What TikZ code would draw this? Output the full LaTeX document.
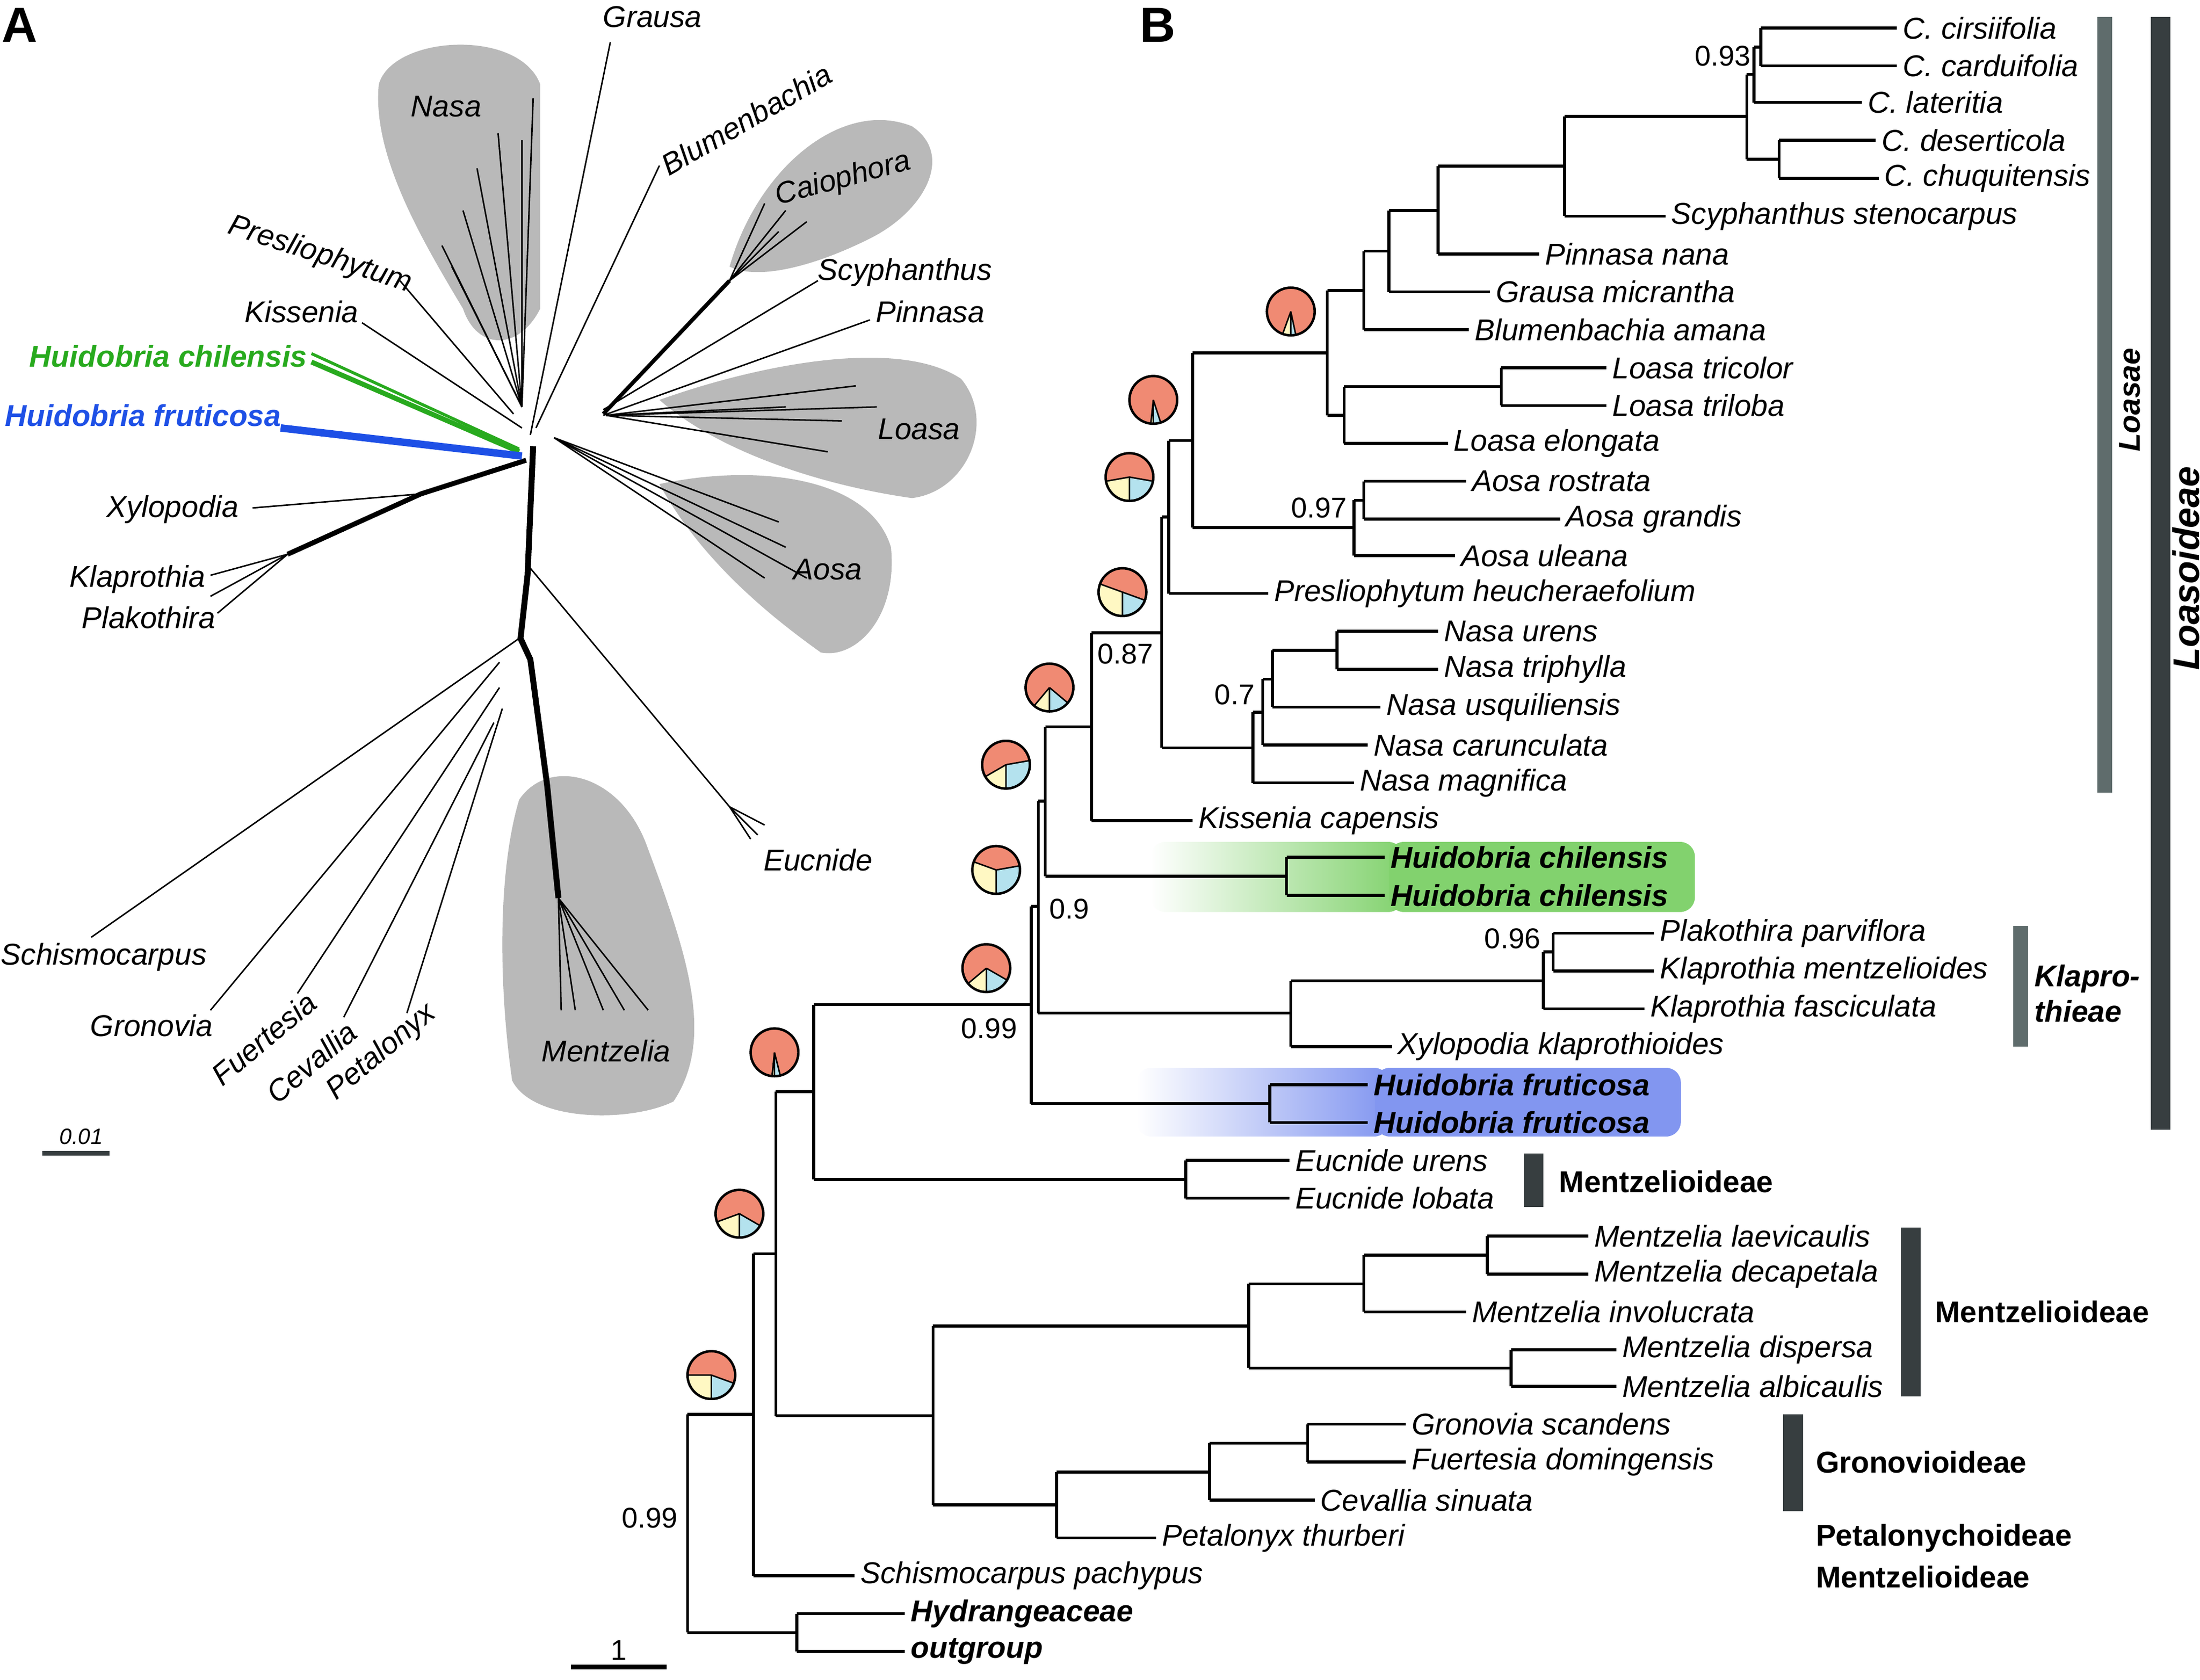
\documentclass[tikz,border=0pt]{standalone}
\usepackage{fontspec}
\setmainfont{Liberation Sans}
\usetikzlibrary{positioning}
\definecolor{pieR}{RGB}{240,138,115}
\definecolor{pieY}{RGB}{255,248,195}
\definecolor{pieB}{RGB}{180,226,238}
\definecolor{hgreen}{RGB}{130,210,110}
\definecolor{hblue}{RGB}{130,150,240}
\definecolor{barlight}{RGB}{95,108,108}
\definecolor{bardark}{RGB}{55,62,64}
\definecolor{nblue}{RGB}{30,80,230}
\definecolor{ngreen}{RGB}{40,170,30}
\newcommand\pieCh[4]{%
  \begin{scope}[shift={(#1,#2)}, x=1cm, y=1cm]
    \fill[pieR] (0,0) -- (-90+#4:0.17) arc[start angle=-90+#4, end angle=270-#3, radius=0.17] -- cycle;
    \fill[pieY] (0,0) -- (270-#3:0.17) arc[start angle=270-#3, end angle=270, radius=0.17] -- cycle;
    \fill[pieB] (0,0) -- (-90:0.17) arc[start angle=-90, end angle=-90+#4, radius=0.17] -- cycle;
    \draw[line width=0.5pt] (0,0) circle[radius=0.17];
    \draw[line width=0.3pt] (0,0) -- (-90:0.17) (0,0) -- (270-#3:0.17) (0,0) -- (-90+#4:0.17);
  \end{scope}}
\begin{document}
\begin{tikzpicture}[x=0.01cm, y=-0.01cm,
    tip/.style={font=\fontsize{6.1}{7.3}\selectfont\itshape, inner sep=1pt, anchor=west},
    btip/.style={tip, font=\fontsize{6.1}{7.3}\selectfont\bfseries\itshape},
    grp/.style={font=\fontsize{6.1}{7.3}\selectfont\bfseries, inner sep=1pt, anchor=west},
    supp/.style={font=\fontsize{5.8}{7}\selectfont, inner sep=1pt},
    br/.style={line width=0.6pt},
    net/.style={line width=0.3pt},
    blob/.style={fill=gray!55, draw=none},
    alab/.style={font=\fontsize{6.1}{7.3}\selectfont\itshape, inner sep=0.5pt},
    plab/.style={font=\fontsize{10}{12}\selectfont\bfseries, inner sep=0pt},
  ]
  \useasboundingbox (0,0) rectangle (1568,1197);

  % ---------- panel A
  \node[plab] (pA) at (14,18) {A};
  \fill[blob] (270,60) .. controls (280,25) and (370,20) .. (385,60) -- (385,220) .. controls (370,250) and (340,250) .. (330,220) .. controls (300,170) and (265,110) .. (270,60);
  \fill[blob] (520,190) .. controls (540,120) and (600,70) .. (650,90) .. controls (680,110) and (660,150) .. (620,170) .. controls (580,190) and (540,200) .. (520,190);
  \fill[blob] (470,285) .. controls (540,260) and (640,240) .. (685,270) .. controls (710,300) and (690,350) .. (650,355) .. controls (580,345) and (510,320) .. (470,285);
  \fill[blob] (470,345) .. controls (540,330) and (620,340) .. (635,390) .. controls (640,440) and (610,470) .. (585,465) .. controls (550,440) and (500,400) .. (470,345);
  \fill[blob] (370,570) .. controls (390,540) and (440,550) .. (460,600) .. controls (490,680) and (510,740) .. (480,785) .. controls (450,800) and (380,800) .. (365,770) .. controls (355,700) and (355,620) .. (370,570);
  % trunk
  \draw[line width=1.2pt] (380,318) -- (376,410) -- (371,455) -- (378,470) -- (390,560) -- (398,640);
  \draw[line width=1pt] (375,328) -- (300,352) -- (205,395);
  \draw[line width=0.8pt] (430,295) -- (520,200);
  \foreach \a/\b in {380/70,355/95,340/120,330/150,315/175,322/190,372/100}
    \draw[net] (372,290) -- (\a,\b);
  \draw[net] (378,310) -- (435,30);
  \draw[net] (382,305) -- (470,118);
  \draw[net] (285,200) -- (366,295);
  \draw[net] (258,230) -- (372,305);
  \draw[line width=1pt, ngreen] (222,258) -- (370,322);
  \draw[line width=0.6pt, ngreen] (222,252) -- (370,320);
  \draw[line width=1.5pt, nblue] (200,305) -- (372,325);
  \draw[net] (180,362) -- (300,352);
  \draw[net] (205,395) -- (150,410);
  \draw[net] (205,395) -- (150,425);
  \draw[net] (205,395) -- (155,437);
  \foreach \a/\b in {560/150,575/158,545/145,555/165}
    \draw[net] (520,200) -- (\a,\b);
  \draw[net] (430,292) -- (583,200);
  \draw[net] (430,296) -- (620,228);
  \foreach \a/\b in {610/275,625/290,600/300,590/322,560/290}
    \draw[net] (432,296) -- (\a,\b);
  \foreach \a/\b in {560/390,555/372,545/412,575/412}
    \draw[net] (395,312) -- (\a,\b);
  \draw[net] (378,405) -- (520,575);
  \foreach \a/\b in {540/595,535/598,545/588}
    \draw[net] (520,575) -- (\a,\b);
  \draw[net] (65,668) -- (370,455);
  \draw[net] (150,720) -- (356,472);
  \draw[net] (212,708) -- (356,490);
  \draw[net] (245,725) -- (352,515);
  \draw[net] (290,722) -- (358,505);
  \foreach \a in {400,410,430,445,462}
    \draw[net] (398,640) -- (\a,720);
  \node[alab] (aGr) at (465,12) {Grausa};
  \node[alab, rotate=30] (aBl) at (532,85) {Blumenbachia};
  \node[alab] (aNa) at (318,76) {Nasa};
  \node[alab, rotate=15] (aCa) at (601,128) {Caiophora};
  \node[alab, rotate=-18] (aPr) at (228,182) {Presliophytum};
  \node[alab] (aSc) at (645,194) {Scyphanthus};
  \node[alab] (aKi) at (215,222) {Kissenia};
  \node[alab] (aPi) at (663,222) {Pinnasa};
  \node[alab, text=ngreen, font=\fontsize{6.1}{7.3}\selectfont\bfseries\itshape] (aHc) at (120,254) {Huidobria chilensis};
  \node[alab, text=nblue, font=\fontsize{6.1}{7.3}\selectfont\bfseries\itshape] (aHf) at (102,296) {Huidobria fruticosa};
  \node[alab] (aLo) at (655,306) {Loasa};
  \node[alab] (aXy) at (123,363) {Xylopodia};
  \node[alab] (aAo) at (590,406) {Aosa};
  \node[alab] (aKl) at (98,413) {Klaprothia};
  \node[alab] (aPl) at (106,440) {Plakothira};
  \node[alab] (aEu) at (583,613) {Eucnide};
  \node[alab] (aSm) at (74,682) {Schismocarpus};
  \node[alab] (aGo) at (108,731) {Gronovia};
  \node[alab, rotate=40] (aFu) at (188,740) {Fuertesia};
  \node[alab, rotate=40] (aCe) at (222,757) {Cevallia};
  \node[alab, rotate=40] (aPe) at (272,750) {Petalonyx};
  \node[alab] (aMe) at (432,749) {Mentzelia};
  \node[alab, font=\fontsize{4.5}{5}\selectfont\itshape] (aSb) at (58,810) {0.01};
  \draw[line width=1pt, bardark] (30,822) -- (78,822);

  % ---------- panel B
  \node[plab] (pB) at (825,18) {B};
  \shade[left color=white, right color=hgreen, rounded corners=3pt] (820,600) rectangle (1000,650);
  \fill[hgreen, rounded corners=3pt] (990,600) rectangle (1208,650);
  \shade[left color=white, right color=hblue, rounded corners=3pt] (810,761) rectangle (990,810);
  \fill[hblue, rounded corners=3pt] (980,761) rectangle (1198,810);

  % internal nodes: x / ytop / ybot / y / parent x
  \foreach \x/\ya/\yb/\y/\p in {
      1255/20/47/33.5/1250, 1250/33.5/73/53/1245, 1268/100/127/113.5/1245,
      1245/53/113.5/83/1115, 1115/83/154/118.5/1025, 1025/118.5/181/150/990,
      990/150/208/179/972, 972/179/235/207/946, 1070/262/289/275.5/958,
      958/275.5/316/296/946, 946/207/296/251.5/850, 972/343/370/356.5/965,
      965/356.5/396/376/850, 850/251.5/376/314/833, 833/314/423/368.5/828,
      953/450/477/463.5/907, 907/463.5/504/484/900, 900/484/531/507.5/893,
      893/507.5/558/533/828, 828/368.5/533/451/778, 778/451/585/518/745,
      917/611/638/624.5/745, 745/518/624.5/571/740, 1107/665/692/678.5/1100,
      1100/678.5/719/699/920, 920/699/746/722/740, 740/571/722/646/735,
      905/773/800/786.5/735, 735/646/786.5/716/580, 845/827/854/840.5/580,
      580/716/840.5/778/553, 1060/881/908/894.5/972, 972/894.5/935/915/890,
      1077/962/988/975/890, 890/915/975/945/665, 932/1015/1042/1028.5/862,
      862/1028.5/1069/1049/753, 753/1049/1096/1072.5/665, 665/945/1072.5/1009/553,
      553/778/1009/893.5/537, 537/893.5/1123/1008/490, 568/1150/1177/1163.5/490}
    \draw[br] (\p,\y) -- (\x,\y) (\x,\ya) -- (\x,\yb);
  \draw[br] (490,1008) -- (490,1163.5);

  % tips: parent x / y / label x / name
  \foreach \p/\y/\lx/\t [count=\i] in {
      1255/20/1355/C. cirsiifolia, 1255/47/1355/C. carduifolia, 1250/73/1330/C. lateritia,
      1268/100/1340/C. deserticola, 1268/127/1342/C. chuquitensis,
      1115/154/1190/Scyphanthus stenocarpus, 1025/181/1100/Pinnasa nana,
      990/208/1065/Grausa micrantha, 972/235/1050/Blumenbachia amana,
      1070/262/1148/Loasa tricolor, 1070/289/1148/Loasa triloba,
      958/316/1035/Loasa elongata, 972/343/1048/Aosa rostrata, 972/370/1115/Aosa grandis,
      965/396/1040/Aosa uleana, 833/423/907/Presliophytum heucheraefolium,
      953/450/1028/Nasa urens, 953/477/1028/Nasa triphylla, 907/504/987/Nasa usquiliensis,
      900/531/978/Nasa carunculata, 893/558/968/Nasa magnifica, 778/585/853/Kissenia capensis,
      1107/665/1182/Plakothira parviflora, 1107/692/1182/Klaprothia mentzelioides,
      1100/719/1175/Klaprothia fasciculata, 920/746/995/Xylopodia klaprothioides,
      845/827/922/Eucnide urens, 845/854/922/Eucnide lobata,
      1060/881/1135/Mentzelia laevicaulis, 1060/908/1135/Mentzelia decapetala,
      972/935/1048/Mentzelia involucrata, 1077/962/1155/Mentzelia dispersa,
      1077/988/1155/Mentzelia albicaulis, 932/1015/1005/Gronovia scandens,
      932/1042/1005/Fuertesia domingensis, 862/1069/940/Cevallia sinuata,
      753/1096/827/Petalonyx thurberi, 537/1123/612/Schismocarpus pachypus}
    {\node[tip] (t\i) at (\lx-3,\y) {\t};
     \draw[br] (\p,\y) -- (t\i.west);}
  \foreach \p/\y/\lx/\t [count=\i] in {
      917/611/990/Huidobria chilensis, 917/638/990/Huidobria chilensis,
      905/773/978/Huidobria fruticosa, 905/800/978/Huidobria fruticosa,
      568/1150/648/Hydrangeaceae, 568/1177/648/outgroup}
    {\node[btip] (b\i) at (\lx-3,\y) {\t};
     \draw[br] (\p,\y) -- (b\i.west);}

  % support values
  \node[supp] (s1) at (1228,40) {0.93};
  \node[supp] (s2) at (940,362) {0.97};
  \node[supp] (s3) at (802,466) {0.87};
  \node[supp] (s4) at (880,495) {0.7};
  \node[supp] (s5) at (762,648) {0.9};
  \node[supp] (s6) at (1078,669) {0.96};
  \node[supp] (s7) at (705,733) {0.99};
  \node[supp] (s8) at (463,1082) {0.99};

  % pies
  \pieCh{920}{222}{20}{12}
  \pieCh{822}{285}{6}{18}
  \pieCh{805}{340}{80}{80}
  \pieCh{800}{422}{110}{70}
  \pieCh{748}{490}{40}{50}
  \pieCh{717}{545}{60}{100}
  \pieCh{710}{620}{110}{100}
  \pieCh{703}{690}{50}{60}
  \pieCh{552}{750}{6}{14}
  \pieCh{527}{865}{70}{60}
  \pieCh{507}{980}{90}{70}

  % clade bars
  \draw[line width=3pt, barlight] (1500,12) -- (1500,565);
  \node[grp, rotate=90, font=\fontsize{6.1}{7.3}\selectfont\bfseries\itshape, anchor=center] (gLs) at (1518,285) {Loasae};
  \draw[line width=4pt, bardark] (1540,12) -- (1540,805);
  \node[grp, rotate=90, font=\fontsize{7.5}{9}\selectfont\bfseries\itshape, anchor=center] (gLo) at (1558,405) {Loasoideae};
  \draw[line width=3pt, barlight] (1440,660) -- (1440,746);
  \node[grp, align=left, font=\fontsize{6.1}{7.2}\selectfont\bfseries\itshape] (gKl) at (1446,708) {Klapro-\\thieae};
  \draw[line width=4pt, bardark] (1093,822) -- (1093,860);
  \node[grp] (gM1) at (1107,842) {Mentzelioideae};
  \draw[line width=4pt, bardark] (1362,875) -- (1362,995);
  \node[grp] (gM2) at (1375,935) {Mentzelioideae};
  \draw[line width=4pt, bardark] (1278,1008) -- (1278,1077);
  \node[grp] (gGr) at (1290,1042) {Gronovioideae};
  \node[grp] (gPe) at (1290,1096) {Petalonychoideae};
  \node[grp] (gM3) at (1290,1124) {Mentzelioideae};

  % scale bar
  \coordinate (sbL) at (407,1188);
  \coordinate (sbR) at (475,1188);
  \draw[line width=1pt] (sbL) -- (sbR);
  \node[supp] (sbT) at (441,1176) {1};
\end{tikzpicture}
\end{document}
